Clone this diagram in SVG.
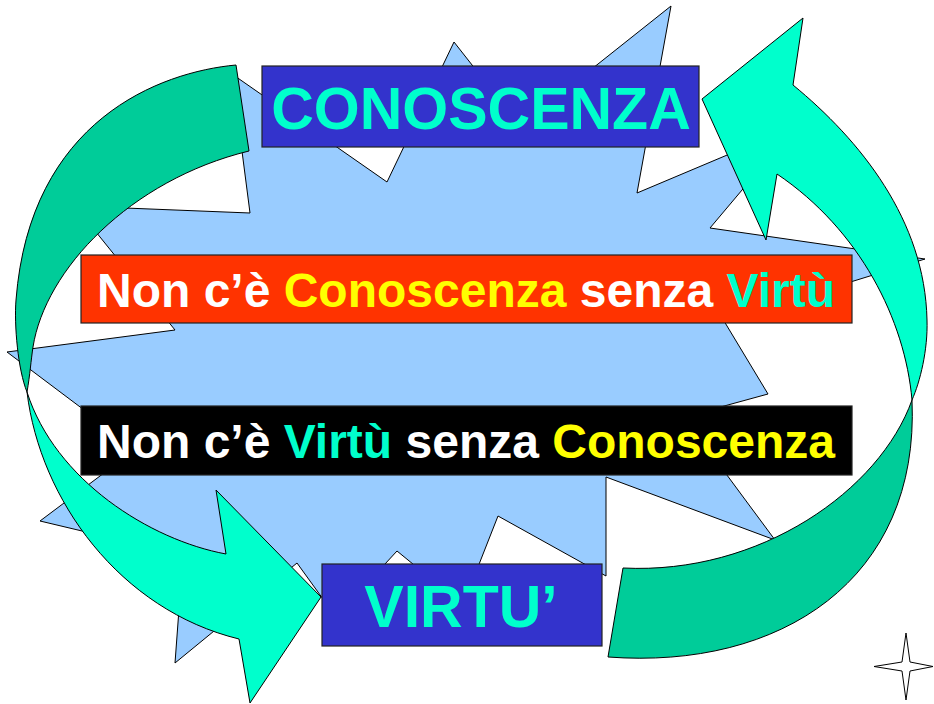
<svg xmlns="http://www.w3.org/2000/svg" width="934" height="704" viewBox="0 0 934 704">
<style>
.burst{fill:#99CCFF;stroke:#000;stroke-width:1;stroke-linejoin:miter}
.box{stroke:#222;stroke-width:1.2}
.t{font-family:"Liberation Sans",Arial,sans-serif;font-weight:bold}
.front{fill:#00FFCC;stroke:#000;stroke-width:1;stroke-linejoin:miter}
.back{fill:#00CC99;stroke:#000;stroke-width:1}
.w{fill:#FFFFFF}.y{fill:#FFFF00}.c{fill:#00FFCC}
</style>
<rect width="934" height="704" fill="#FFFFFF"/>
<g id="burst">
<polygon class="burst" points="454,42 520,126 671,6 637,193 796,126 710,228 925,259 724,321 768,394 684,417 775,540 606,477 606,576 498,516 463,605 397,551 336,617 297,563 175,663 183,555 40,521 136,449 7,352 175,330 75,206 250,213 232,74 387,182"/>
</g>
<g id="connectors">
<g id="arrow-left">
<path class="front" d="M27,392 C40,500 120,610 239,639 L250,703 L321,597 L216,490 L226,554 C150,540 55,480 27,392 Z"/>
<path class="back" d="M236,65 C160,72 30,120 16,300 C14,325 18,370 27,392 C30,375 31,360 33,347 C45,270 130,180 249,151 Z"/>
</g>
<g id="arrow-right">
<path class="front" d="M793,85 C860,140 925,220 927,320 C928,350 920,382 912,400 C905,320 860,230 777,174 L766,240 L702,99 L803,18 Z"/>
<path class="back" d="M623,568 C760,575 880,490 912,400 C920,580 780,670 608,657 Z"/>
</g>
</g>
<g id="node-conoscenza">
<rect class="box" x="262" y="66" width="437" height="81" fill="#3333CC"/>
<text class="t c" x="481" y="129" font-size="59" text-anchor="middle">CONOSCENZA</text>
</g>
<g id="node-red">
<rect class="box" x="81" y="255" width="771" height="68" fill="#FF3300"/>
<text class="t" x="466" y="307" font-size="48" text-anchor="middle"><tspan class="w">Non c’è </tspan><tspan class="y">Conoscenza</tspan><tspan class="w"> senza </tspan><tspan class="c">Virtù</tspan></text>
</g>
<g id="node-black">
<rect class="box" x="81" y="406" width="771" height="69" fill="#000000"/>
<text class="t" x="466" y="458" font-size="48" text-anchor="middle"><tspan class="w">Non c’è </tspan><tspan class="c">Virtù</tspan><tspan class="w"> senza </tspan><tspan class="y">Conoscenza</tspan></text>
</g>
<g id="node-virtu">
<rect class="box" x="322" y="564" width="280" height="82" fill="#3333CC"/>
<text class="t c" x="461" y="627" font-size="59" text-anchor="middle">VIRTU’</text>
</g>
<g id="star">
<polygon points="906,633 910,662 933,666.5 910,671 906,700 902,671 874,666.5 902,662" fill="#FFFFFF" stroke="#000" stroke-width="1"/>
</g>
</svg>
